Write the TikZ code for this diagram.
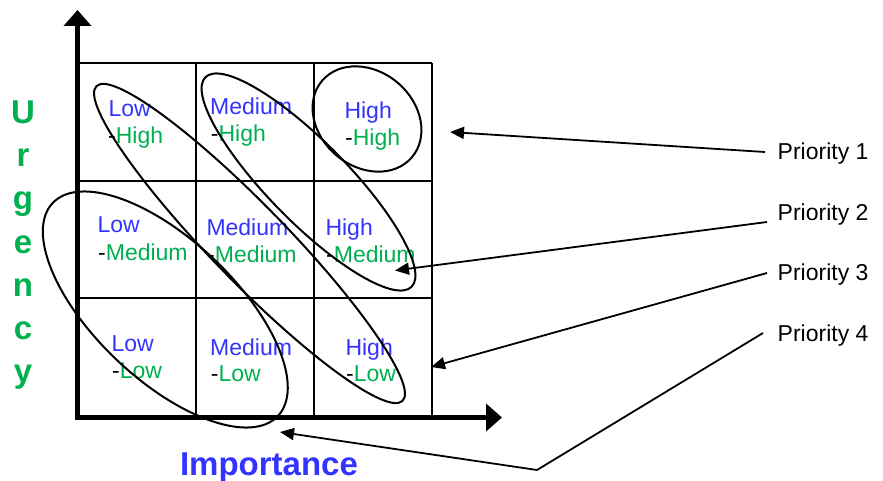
\documentclass[tikz,border=0pt]{standalone}
\usepackage{fontspec}
\setmainfont{Liberation Sans}
\usetikzlibrary{shapes.geometric,arrows.meta,calc}
\definecolor{tblue}{RGB}{51,51,255}
\definecolor{tgreen}{RGB}{0,176,80}
\begin{document}
\begin{tikzpicture}[x=1pt,y=-1pt,
  cellfont/.style={font=\fontsize{23}{27}\selectfont},
  cellA/.style={cellfont, anchor=base west, inner sep=0, text=tblue},
  cellB/.style={cellfont, anchor=base west, inner sep=0, text=black},
  oval/.style={draw, ellipse, inner sep=0, line width=2pt},
  plabel/.style={cellfont, anchor=base west, inner sep=0},
  parrow/.style={line width=1.8pt, -{Triangle[length=14pt,width=12pt]}},
  gridline/.style={line width=2.2pt},
  axisline/.style={line width=5pt, -{Triangle[length=16pt,width=27pt]}},
  biglabel/.style={font=\fontsize{33}{36}\selectfont\bfseries, anchor=base, inner sep=0}
]
\useasboundingbox (0,0) rectangle (883,481);

% grid
\foreach \x in {78,196,314,432} \draw[gridline] (\x,63) -- (\x,418);
\foreach \y in {63,181,298} \draw[gridline] (78,\y) -- (432,\y);

% cell texts
\node[cellA] (lh1) at (108.3,116.3) {Low};
\node[cellB] (lh2) at (108,143.3) {-\textcolor{tgreen}{High}};
\node[cellA] (mh1) at (210,114.3) {Medium};
\node[cellB] (mh2) at (210.7,141.3) {-\textcolor{tgreen}{High}};
\node[cellA] (hh1) at (344.3,118.3) {High};
\node[cellB] (hh2) at (345,145.7) {-\textcolor{tgreen}{High}};
\node[cellA] (lm1) at (97.3,232.3) {Low};
\node[cellB] (lm2) at (98,260.3) {-\textcolor{tgreen}{Medium}};
\node[cellA] (mm1) at (206.3,235.3) {Medium};
\node[cellB] (mm2) at (207,262.3) {-\textcolor{tgreen}{Medium}};
\node[cellA] (hm1) at (325.3,235.3) {High};
\node[cellB] (hm2) at (326,262.3) {-\textcolor{tgreen}{Medium}};
\node[cellA] (ll1) at (111.3,351.3) {Low};
\node[cellB] (ll2) at (112,378.3) {-\textcolor{tgreen}{Low}};
\node[cellA] (ml1) at (210,355) {Medium};
\node[cellB] (ml2) at (210.7,381.3) {-\textcolor{tgreen}{Low}};
\node[cellA] (hl1) at (345.3,355.3) {High};
\node[cellB] (hl2) at (346,381.3) {-\textcolor{tgreen}{Low}};

% ellipses
\node[oval, minimum width=118pt, minimum height=95pt, rotate=-40.5] (e1) at (367,119) {};
\node[oval, minimum width=294pt, minimum height=80pt, rotate=-45.5] (e2) at (308.5,182) {};
\node[oval, minimum width=439pt, minimum height=76pt, rotate=-45.8] (e3) at (249.5,243.5) {};
\node[oval, minimum width=310pt, minimum height=140pt, rotate=-43.4] (e4) at (165.3,309.5) {};

% axes
\draw[axisline] (77.5,420) -- (77.5,10);
\draw[axisline] (75,417.5) -- (502,417.5);

% axis labels
\foreach \c [count=\i] in {U,r,g,e,n,c,y}
  \node[biglabel, text=tgreen] (u\i) at (23,{124+43*(\i-1)}) {\c};
\node[biglabel, text=tblue] (imp) at (269,475) {Importance};

% priority labels
\node[plabel] (p1) at (777.5,159.3) {Priority 1};
\node[plabel] (p2) at (777.5,220.7) {Priority 2};
\node[plabel] (p3) at (777.5,280.7) {Priority 3};
\node[plabel] (p4) at (777.5,341.3) {Priority 4};

\coordinate (t1) at (450,132);
\coordinate (t2) at (395,270.5);
\coordinate (t3) at (431,367);
\coordinate (b4) at (537,470);
\coordinate (t4) at (280,432);

\draw[parrow] ($(p1.base west)+(-12.5,-7.3)$) -- (t1);
\draw[parrow] ($(p2.base west)+(-10.5,1.3)$) -- (t2);
\draw[parrow] ($(p3.base west)+(-10.5,-7.7)$) -- (t3);
\draw[parrow] ($(p4.base west)+(-14.5,-8.3)$) -- (b4) -- (t4);
\end{tikzpicture}
\end{document}
